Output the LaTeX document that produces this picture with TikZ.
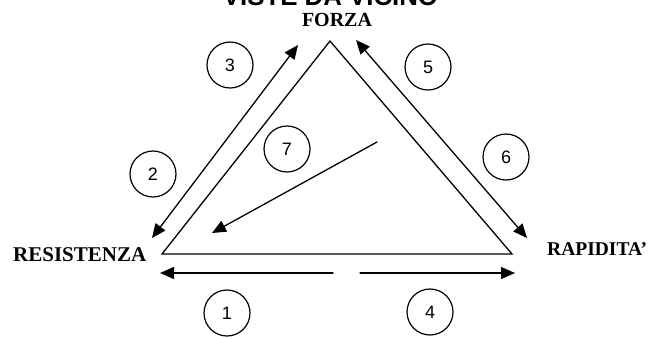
\documentclass[tikz,border=0pt]{standalone}
\usepackage{fontspec}
\setmainfont{Liberation Serif}
\newfontfamily\titlefont{Liberation Sans}
\usetikzlibrary{arrows.meta}
\tikzset{
  ln/.style={line width=1.3pt, line cap=round},
  arr/.style={ln, -{Triangle[length=14pt,width=12pt]}},
  darr/.style={ln, {Triangle[length=14pt,width=12pt]}-{Triangle[length=14pt,width=12pt]}},
  num/.style={circle, draw, line width=1.2pt, minimum size=46pt, inner sep=0pt, font=\titlefont\fontsize{18}{18}\selectfont},
  lab/.style={font=\bfseries\fontsize{20}{20}\selectfont, inner sep=0pt}
}
\begin{document}
\begin{tikzpicture}[x=1pt,y=-1pt]
\useasboundingbox (0,0) rectangle (658,338);
% title
\node[anchor=base, inner sep=0pt, font=\titlefont\bfseries\fontsize{25.8}{26}\selectfont] (title) at (330.5,5) {VISTE DA VICINO};
% vertex labels
\node[lab, anchor=base] (forza) at (337,26) {FORZA};
\node[lab, anchor=base west, font=\bfseries\fontsize{21}{21}\selectfont] (resist) at (13,261) {RESISTENZA};
\node[lab, anchor=base west, font=\bfseries\fontsize{19.5}{19.5}\selectfont] (rapid) at (547,255) {RAPIDITA'};
% triangle corners
\coordinate (F) at (330,41);
\coordinate (R) at (162,254);
\coordinate (P) at (512,254);
\draw[ln, line join=miter] (F) -- (R) -- (P) -- cycle;
% outer left double arrow
\coordinate (L1) at (152,238);
\coordinate (L2) at (298,45);
\draw[darr] (L1) -- (L2);
% outer right double arrow
\coordinate (Q1) at (356,40);
\coordinate (Q2) at (527,238);
\draw[darr] (Q1) -- (Q2);
% bottom arrows
\coordinate (B0) at (160,273);
\coordinate (B1) at (333,273);
\coordinate (B2) at (360,273);
\coordinate (B3) at (515,273);
\draw[arr] (B1) -- (B0);
\draw[arr] (B2) -- (B3);
% inner arrow 7
\coordinate (I1) at (377,142);
\coordinate (I2) at (212,233);
\draw[arr] (I1) -- (I2);
% numbered circles
\node[num] (n1) at (227,313) {1};
\node[num] (n2) at (153,174) {2};
\node[num] (n3) at (230,65) {3};
\node[num] (n4) at (430,312) {4};
\node[num] (n5) at (428,67) {5};
\node[num] (n6) at (506,157) {6};
\node[num] (n7) at (287,149) {7};
\end{tikzpicture}
\end{document}
